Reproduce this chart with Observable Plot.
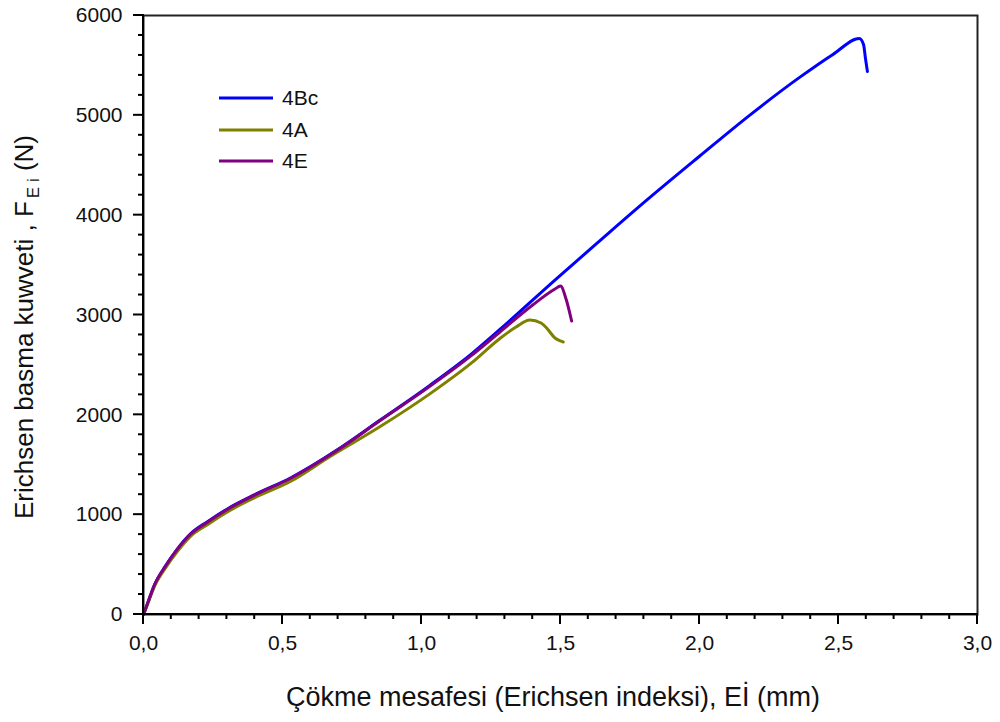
<!DOCTYPE html>
<html>
<head>
<meta charset="utf-8">
<script src="https://cdn.jsdelivr.net/npm/d3@7"></script>
<script src="https://cdn.jsdelivr.net/npm/@observablehq/plot@0.6"></script>
<style>
  html, body { margin: 0; padding: 0; background: #fff; }
  #chart { width: 1000px; height: 722px; }
  svg { font-family: "Liberation Sans", Arial, sans-serif; }
</style>
</head>
<body>
<div id="chart"></div>
<script>
// ---- Data ----
const seriesNames = ["4Bc", "4A", "4E"];
const seriesColors = ["#0000ff", "#808000", "#800080"];

const x4Bc = [0, 0.01, 0.04, 0.08, 0.12, 0.17, 0.23, 0.30, 0.40, 0.53, 0.70, 0.85, 1.03, 1.18, 1.28, 1.48, 1.64, 1.81, 2.00, 2.18, 2.36, 2.48, 2.575, 2.59, 2.597, 2.604];
const f4Bc = [0, 75, 300, 490, 650, 810, 930, 1055, 1200, 1370, 1655, 1945, 2295, 2610, 2850, 3350, 3740, 4150, 4590, 5000, 5380, 5610, 5770, 5710, 5570, 5440];

const x4A = [0, 0.01, 0.04, 0.08, 0.12, 0.17, 0.23, 0.30, 0.40, 0.53, 0.67, 0.85, 1.03, 1.18, 1.28, 1.34, 1.39, 1.43, 1.45, 1.48, 1.50, 1.51];
const f4A = [0, 70, 285, 470, 625, 785, 900, 1025, 1170, 1335, 1580, 1880, 2210, 2520, 2760, 2880, 2950, 2920, 2870, 2770, 2740, 2730];

const x4E = [0, 0.01, 0.04, 0.08, 0.12, 0.17, 0.23, 0.30, 0.40, 0.53, 0.70, 0.85, 1.03, 1.18, 1.28, 1.40, 1.48, 1.50, 1.52, 1.54];
const f4E = [0, 75, 300, 488, 647, 806, 925, 1050, 1195, 1365, 1650, 1940, 2285, 2595, 2825, 3100, 3260, 3290, 3160, 2940];

const xMajorTicks = [0, 0.5, 1.0, 1.5, 2.0, 2.5, 3.0];
const yMajorTicks = [0, 1000, 2000, 3000, 4000, 5000, 6000];
const xTitle = "Çökme mesafesi (Erichsen indeksi), Eİ (mm)";
const yTitleMain = "Erichsen basma kuwveti , F";
const yTitleSub = "E i";
const yTitleTail = " (N)";

// ---- Build table ----
const xs = [x4Bc, x4A, x4E];
const fs = [f4Bc, f4A, f4E];
const rows = [];
seriesNames.forEach((name, i) => {
  xs[i].forEach((x, j) => rows.push({series: name, x, f: fs[i][j], color: seriesColors[i]}));
});

const xMinor = d3.range(0, 31).map(i => i / 10).filter(v => !xMajorTicks.some(t => Math.abs(t - v) < 1e-9));
const yMinor = d3.range(0, 6001, 200).filter(v => v % 1000 !== 0);

const plot = Plot.plot({
  width: 1000,
  height: 722,
  marginLeft: 143,
  marginRight: 23,
  marginTop: 15,
  marginBottom: 108,
  x: {domain: [0, 3], axis: null},
  y: {domain: [0, 6000], axis: null},
  marks: [
    Plot.line(rows, {x: "x", y: "f", z: "series", stroke: "color", strokeWidth: 3, curve: "monotone-x", strokeLinejoin: "round", strokeLinecap: "round"}),
    Plot.text(xMajorTicks, {x: d => d, frameAnchor: "bottom", dy: 35, fontSize: 21, fill: "#111",
      text: d => d.toFixed(1).replace(".", ",")}),
    Plot.text(yMajorTicks, {y: d => d, frameAnchor: "left", dx: -21, textAnchor: "end", fontSize: 21, fill: "#111",
      text: d => String(d)}),
    Plot.frame({stroke: "#222", strokeWidth: 2})
  ]
});

document.getElementById("chart").appendChild(plot);
const svg = d3.select(plot);

// ---- Tick marks as filled rectangles, placed through the plot's own scales ----
const sx = plot.scale("x"), sy = plot.scale("y");
const X0 = sx.apply(0), Y0 = sy.apply(0), X1 = sx.apply(3), Y1 = sy.apply(6000);
const tg = svg.append("g").attr("fill", "#000");
function vtick(x, len) { tg.append("rect").attr("x", x - 1).attr("y", Y0).attr("width", 2).attr("height", len); }
function htick(y, len) { tg.append("rect").attr("x", X0 - len).attr("y", y - 1).attr("width", len).attr("height", 2); }
xMajorTicks.forEach(v => vtick(sx.apply(v), 10));
xMinor.forEach(v => vtick(sx.apply(v), 5));
yMajorTicks.forEach(v => htick(sy.apply(v), 10));
yMinor.forEach(v => htick(sy.apply(v), 5));
tg.append("rect").attr("x", X0 - 1).attr("y", Y0 - 1).attr("width", X1 - X0 + 2).attr("height", 2);
tg.append("rect").attr("x", X0 - 1).attr("y", Y1 - 1).attr("width", 2).attr("height", Y0 - Y1 + 2);

// ---- Titles and legend ----
svg.append("text")
  .attr("x", 553).attr("y", 706)
  .attr("text-anchor", "middle")
  .attr("font-size", 27).attr("fill", "#111")
  .text(xTitle);

const yt = svg.append("text")
  .attr("transform", "translate(33,327) rotate(-90)")
  .attr("text-anchor", "middle")
  .attr("font-size", 26).attr("fill", "#111");
yt.append("tspan").text(yTitleMain);
yt.append("tspan").attr("font-size", 17).attr("dy", 6).attr("dx", 3).text(yTitleSub);
yt.append("tspan").attr("dy", -6).text(yTitleTail);

const legendYs = [98, 130, 161];
seriesNames.forEach((name, i) => {
  svg.append("rect").attr("x", 219).attr("y", legendYs[i] - 1.5).attr("width", 54).attr("height", 3)
    .attr("fill", seriesColors[i]);
  svg.append("text").attr("x", 282).attr("y", legendYs[i]).attr("dy", "0.35em")
    .attr("text-anchor", "start")
    .attr("font-size", 21).attr("fill", "#111").text(name);
});
</script>
</body>
</html>
